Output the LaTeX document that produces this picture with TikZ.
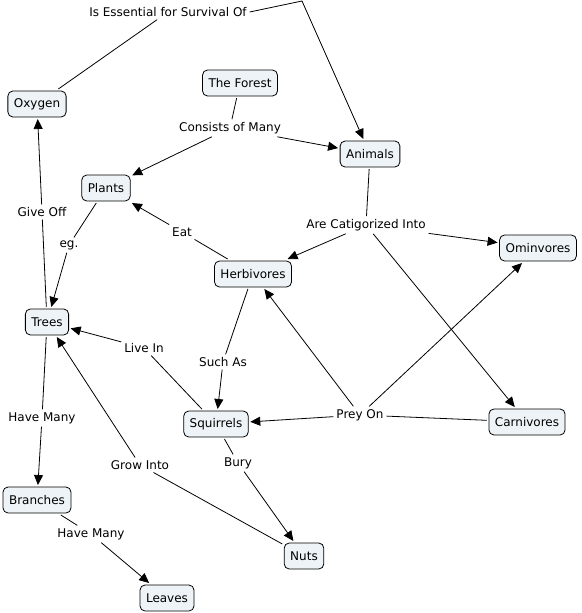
\documentclass[tikz,border=0pt]{standalone}
\usepackage{fontspec}
\setmainfont{DejaVu Sans}
\usetikzlibrary{positioning, arrows.meta}
\definecolor{conceptfill}{RGB}{237,243,246}

\begin{document}
\begin{tikzpicture}[x=1pt, y=-1pt, line width=0.8pt,
	concept/.style={draw, rounded corners=5pt, fill=conceptfill, minimum height=26pt, inner xsep=6pt, outer sep=2pt, font=\fontsize{12}{14}\selectfont},
	phrase/.style={inner sep=2pt, outer sep=1pt, font=\fontsize{12}{14}\selectfont},
	link/.style={-{Triangle[length=10pt, width=9pt]}}]
	\useasboundingbox (0,0) rectangle (581,613);
	% ---- concepts ----
	\node[concept] (oxygen) at (37,104) {Oxygen};
	\node[concept] (forest) at (240,83) {The Forest};
	\node[concept] (animals) at (370,154) {Animals};
	\node[concept] (plants) at (106,188) {Plants};
	\node[concept] (herbivores) at (253,274) {Herbivores};
	\node[concept] (trees) at (47,322) {Trees};
	\node[concept] (ominvores) at (538,248) {Ominvores};
	\node[concept] (carnivores) at (527,422) {Carnivores};
	\node[concept] (squirrels) at (216,424) {Squirrels};
	\node[concept] (branches) at (37,500) {Branches};
	\node[concept] (nuts) at (304,556) {Nuts};
	\node[concept] (leaves) at (167,598) {Leaves};
	% ---- linking phrases ----
	\node[phrase] (essential) at (168,12) {Is Essential for Survival Of};
	\node[phrase] (consists) at (230,128) {Consists of Many};
	\node[phrase] (giveoff) at (42,212) {Give Off};
	\node[phrase] (eg) at (69,245) {eg.};
	\node[phrase] (eat) at (182,232) {Eat};
	\node[phrase] (categorized) at (366,225) {Are Catigorized Into};
	\node[phrase] (livein) at (144,348) {Live In};
	\node[phrase] (suchas) at (223,362) {Such As};
	\node[phrase] (preyon) at (360,415) {Prey On};
	\node[phrase] (havemanyA) at (42,418) {Have Many};
	\node[phrase] (growinto) at (140,465) {Grow Into};
	\node[phrase] (bury) at (238,463) {Bury};
	\node[phrase] (havemanyB) at (91,534) {Have Many};
	\coordinate (bend) at (302,1);
	% ---- connectors ----
	\draw (oxygen) -- (essential);
	\draw[link] (essential.east) -- (bend) -- (animals);
	\draw (forest) -- (consists);
	\draw[link] (consists) -- (plants);
	\draw[link] (consists) -- (animals);
	\draw (animals) -- (categorized);
	\draw[link] (categorized) -- (herbivores);
	\draw[link] (categorized) -- (ominvores);
	\draw[link] (categorized) -- (carnivores);
	\draw (herbivores) -- (eat);
	\draw[link] (eat) -- (plants);
	\draw (plants) -- (eg);
	\draw[link] (eg) -- (trees);
	\draw (trees) -- (giveoff);
	\draw[link] (giveoff) -- (oxygen);
	\draw (trees) -- (havemanyA);
	\draw[link] (havemanyA) -- (branches);
	\draw (branches) -- (havemanyB);
	\draw[link] (havemanyB) -- (leaves);
	\draw (squirrels) -- (livein);
	\draw[link] (livein) -- (trees);
	\draw (herbivores) -- (suchas);
	\draw[link] (suchas) -- (squirrels);
	\draw (squirrels) -- (bury);
	\draw[link] (bury) -- (nuts);
	\draw (nuts) -- (growinto);
	\draw[link] (growinto) -- (trees);
	\draw (carnivores) -- (preyon);
	\draw[link] (preyon) -- (squirrels);
	\draw[link] (preyon) -- (herbivores);
	\draw[link] (preyon) -- (ominvores);
\end{tikzpicture}
\end{document}
